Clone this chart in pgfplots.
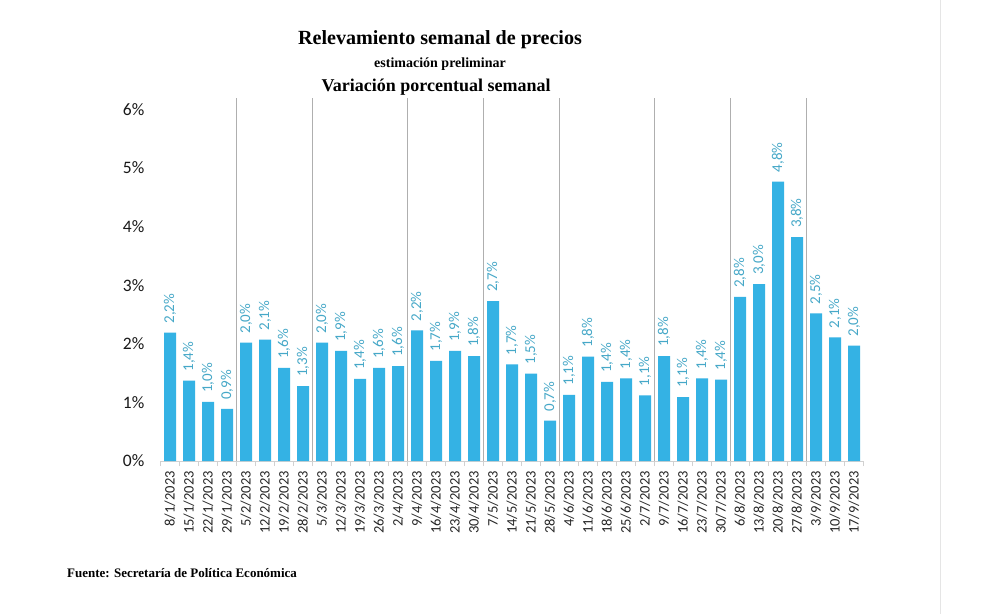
\documentclass[border=0pt]{standalone}
\usepackage{pgfplots}
\pgfplotsset{compat=1.18}
\usepackage{fontspec}
\setmainfont{Liberation Serif}
\newfontfamily\carlito{Carlito}
\definecolor{barblue}{RGB}{52,178,228}
\definecolor{labteal}{RGB}{70,168,200}
\definecolor{sepgray}{RGB}{175,175,175}
\begin{document}
\begin{tikzpicture}[x=1pt,y=1pt]
\path[use as bounding box, fill=white] (0,0) rectangle (992,614);
\draw[black!10] (940,0) -- (940,614);
\node[font=\bfseries\fontsize{20.1}{22}\selectfont] at (440,574) {Relevamiento semanal de precios};
\node[font=\bfseries\fontsize{14}{16}\selectfont] at (440,550) {estimación preliminar};
\node[font=\bfseries\fontsize{18}{20}\selectfont] at (436,527) {Variación porcentual semanal};
\node[font=\bfseries\fontsize{13}{15}\selectfont, anchor=west, inner sep=0pt] at (67,41) {Fuente: Secretaría de Política Económica};
\begin{axis}[
  at={(160.5pt,153pt)}, anchor=south west,
  scale only axis, width=703pt, height=363.3pt,
  xmin=-0.5, xmax=36.5, ymin=0, ymax=6.2,
  enlargelimits=false, clip=false,
  axis x line*=bottom, axis y line*=left,
  y axis line style={draw=none},
  x axis line style={draw=black!18, line width=0.8pt},
  xtick={0,...,36},
  xticklabels={8/1/2023,15/1/2023,22/1/2023,29/1/2023,5/2/2023,12/2/2023,19/2/2023,28/2/2023,5/3/2023,12/3/2023,19/3/2023,26/3/2023,2/4/2023,9/4/2023,16/4/2023,23/4/2023,30/4/2023,7/5/2023,14/5/2023,21/5/2023,28/5/2023,4/6/2023,11/6/2023,18/6/2023,25/6/2023,2/7/2023,9/7/2023,16/7/2023,23/7/2023,30/7/2023,6/8/2023,13/8/2023,20/8/2023,27/8/2023,3/9/2023,10/9/2023,17/9/2023},
  xticklabel style={rotate=90, anchor=east, font=\carlito\fontsize{14.5}{16}\selectfont, text=black!85, inner sep=0pt, xshift=-10pt},
  ytick={0,1,2,3,4,5,6},
  yticklabels={0\%,1\%,2\%,3\%,4\%,5\%,6\%},
  yticklabel style={font=\carlito\fontsize{17.5}{20}\selectfont, text=black!90, anchor=east, inner sep=0pt, xshift=-16pt},
  major tick length=0pt,
  minor tick length=5pt,
  tick align=outside,
  minor xtick={-0.5,0.5,...,36.5},
  minor x tick style={draw=black!18, line width=0.8pt},
  extra x ticks={3.5,7.5,12.5,16.5,20.5,25.5,29.5,33.5},
  extra x tick labels={},
  extra x tick style={grid=major, major grid style={draw=sepgray, line width=0.8pt}, major tick length=0pt},
]
\addplot[ybar, fill=barblue, draw=none, bar width=12pt,
  point meta=explicit symbolic,
  nodes near coords={\pgfplotspointmeta\%},
  nodes near coords style={rotate=90, anchor=west, inner xsep=9pt, inner ysep=0pt, font=\carlito\fontsize{15}{17}\selectfont, text=labteal}]
table[x=x, y=y, meta=lab] {
x y lab
0 2.19 2,2
1 1.37 1,4
2 1.01 1,0
3 0.89 0,9
4 2.02 2,0
5 2.07 2,1
6 1.59 1,6
7 1.28 1,3
8 2.02 2,0
9 1.88 1,9
10 1.40 1,4
11 1.59 1,6
12 1.62 1,6
13 2.23 2,2
14 1.71 1,7
15 1.88 1,9
16 1.79 1,8
17 2.73 2,7
18 1.65 1,7
19 1.49 1,5
20 0.69 0,7
21 1.13 1,1
22 1.78 1,8
23 1.35 1,4
24 1.41 1,4
25 1.12 1,1
26 1.79 1,8
27 1.09 1,1
28 1.41 1,4
29 1.39 1,4
30 2.80 2,8
31 3.02 3,0
32 4.77 4,8
33 3.82 3,8
34 2.52 2,5
35 2.11 2,1
36 1.97 2,0
};
\end{axis}
\end{tikzpicture}
\end{document}
